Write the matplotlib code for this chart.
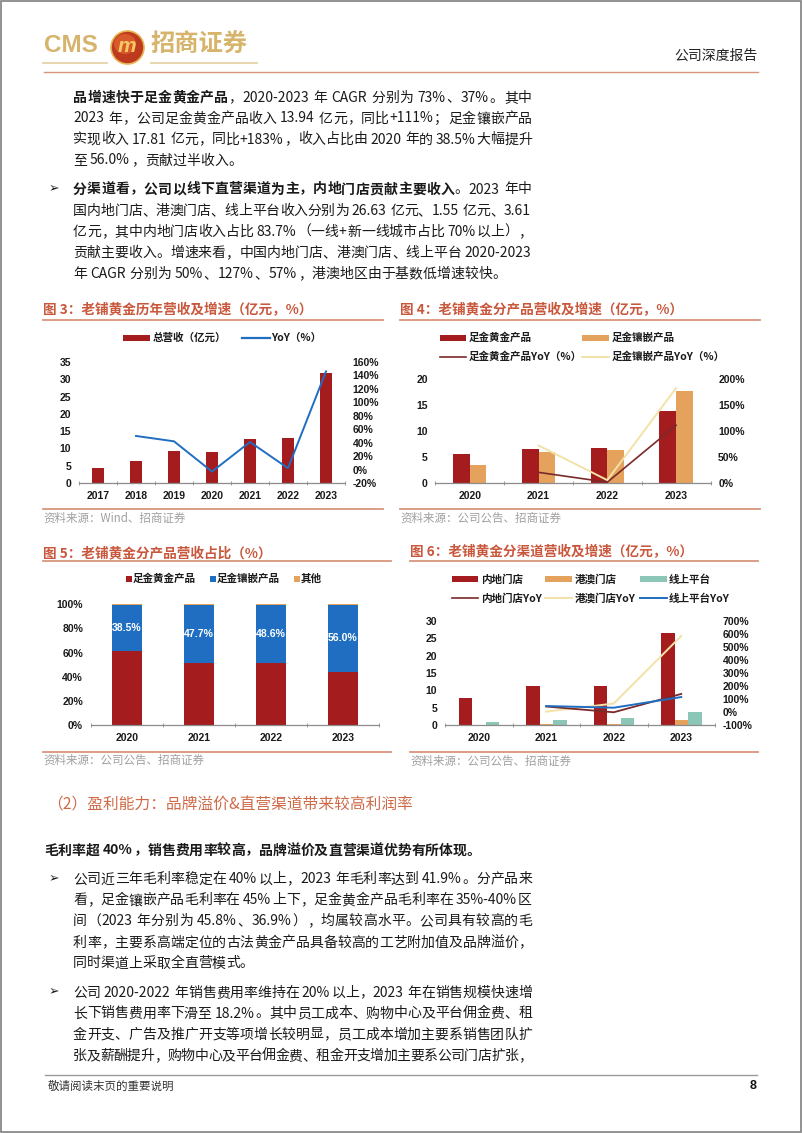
import re
import numpy as np
import matplotlib
matplotlib.use('Agg')
import matplotlib.pyplot as plt
from matplotlib.patches import Rectangle, Ellipse
from matplotlib.lines import Line2D

W, H = 802, 1133
CJK = ['Noto Sans CJK SC', 'DejaVu Sans']
LAT = ['Liberation Sans', 'DejaVu Sans']

# ---------------- data ----------------
years3 = ['2017', '2018', '2019', '2020', '2021', '2022', '2023']
revenue3 = [4.3, 6.5, 9.3, 9.0, 12.7, 12.9, 31.8]
yoy3 = [np.nan, 50, 42, -3, 41, 2, 146]

years4 = ['2020', '2021', '2022', '2023']
gold_rev = [5.5, 6.6, 6.65, 13.94]
inlay_rev = [3.5, 6.0, 6.3, 17.81]
gold_yoy = [np.nan, 20, 1, 111]
inlay_yoy = [np.nan, 72, 5, 183]

gold_share = [61.0, 51.7, 51.2, 43.8]
inlay_share = [38.5, 47.7, 48.6, 56.0]
other_share = [0.5, 0.6, 0.2, 0.2]

mainland_rev = [7.9, 11.35, 11.15, 26.63]
hkmo_rev = [0.13, 0.15, 0.23, 1.55]
online_rev = [0.95, 1.45, 1.9, 3.61]
mainland_yoy = [np.nan, 42, -2, 139]
hkmo_yoy = [np.nan, 3, 65, 585]
online_yoy = [np.nan, 46, 33, 115]

# ---------------- colours ----------------
RED = '#A41C1E'
ORANGE = '#E4A25C'
BLUE = '#1F6EC1'
TEAL = '#8CC6B6'
MAROON = '#7B2A2A'
PALE = '#F2E2A8'
TITLE_C = '#C9573C'
RULE_C = '#D9957C'
GOLD = '#D6B46C'

fig = plt.figure(figsize=(W / 100, H / 100), dpi=100)
fig.patch.set_facecolor('white')
R = fig.canvas.get_renderer()


def txt(x, y, s, size, color='#1a1a1a', weight='normal', ha='left', va='center', family=CJK, **kw):
    return fig.text(x / W, 1 - y / H, s, fontsize=size, color=color, fontweight=weight,
                    ha=ha, va=va, family=family, **kw)


def hline(x0, x1, y, color, lw):
    fig.add_artist(Line2D([x0 / W, x1 / W], [1 - y / H, 1 - y / H], color=color, lw=lw,
                          transform=fig.transFigure))


def leg_bar(x0, x1, y, color, h=6):
    fig.add_artist(Rectangle((x0 / W, 1 - (y + h / 2) / H), (x1 - x0) / W, h / H,
                             facecolor=color, edgecolor='none', transform=fig.transFigure))


def leg_line(x0, x1, y, color, lw=1.3):
    hline(x0, x1, y, color, lw)


# ---------------- justified body text ----------------
FULL = set('，。、；：（）“”！？')
TOK = re.compile(r'[A-Za-z0-9.\-+%&/]+| |.')


def is_full(ch):
    return ord(ch) >= 0x2E80 or ch in FULL


def body_line(x0, yc, segs, size=10, justify=True, right=532, color='#1a1a1a'):
    em = size * 100 / 72
    toks = []
    for s, b in segs:
        for t in TOK.findall(s):
            toks.append((t, b))
    widths = []
    for t, b in toks:
        if t == ' ':
            widths.append(0.22 * em)
        elif len(t) == 1 and is_full(t):
            widths.append(em)
        else:
            tmp = fig.text(0, 0, t, fontsize=size, family=CJK,
                           fontweight='bold' if b else 'normal')
            w = tmp.get_window_extent(R).width
            tmp.remove()
            widths.append(w + 0.08 * em)
    nat = sum(widths)
    n = len(toks)
    gap = (right - x0 - nat) / (n - 1) if (justify and n > 1) else 0
    yb = yc + 0.36 * em
    x = x0
    for (t, b), w in zip(toks, widths):
        if t != ' ':
            fig.text(x / W, 1 - yb / H, t, fontsize=size, family=CJK,
                     fontweight='bold' if b else 'normal', color=color,
                     ha='left', va='baseline')
        x += w + gap


def bullet(y):
    txt(48.5, y, '➢', 9, family=['DejaVu Sans'], color='#1a1a1a')


# ---------------- page frame & header ----------------
fig.add_artist(Rectangle((0.6 / W, 0.6 / H), (W - 1.8) / W, (H - 1.8) / H, fill=False,
                         edgecolor='#7f7f7f', lw=1.2, transform=fig.transFigure))

txt(44, 46, 'CMS', 17.5, color=GOLD, weight='bold', family=LAT)
fig.add_artist(Ellipse((127.5 / W, 1 - 47.5 / H), 33 / W, 33 / H, facecolor='#BE3A1E',
                       edgecolor='#E7B554', lw=1.2, transform=fig.transFigure))
fig.add_artist(Ellipse((125 / W, 1 - 44 / H), 22 / W, 20 / H, facecolor='#D85A2A',
                       edgecolor='none', transform=fig.transFigure))
txt(127, 46, 'm', 15, color='#F4C865', weight='bold', ha='center', family=LAT, style='italic')
txt(151, 45, '招商证券', 17.5, color=GOLD, weight='bold')
hline(43, 107, 62.5, '#E3CF9E', 1.2)
hline(151, 257, 62.5, '#E3CF9E', 1.2)
txt(758, 56, '公司深度报告', 10, color='#222222', ha='right')
hline(44, 758, 72, RULE_C, 1.0)

# ---------------- top paragraphs ----------------
X0 = 73
body_line(X0, 96.7, [('品增速快于足金黄金产品', True), ('，2020-2023 年 CAGR 分别为 73%、37%。其中', False)])
body_line(X0, 117.5, [('2023 年，公司足金黄金产品收入 13.94 亿元，同比+111%；足金镶嵌产品', False)])
body_line(X0, 138.5, [('实现收入 17.81 亿元，同比+183%，收入占比由 2020 年的 38.5%大幅提升', False)])
body_line(X0, 159.5, [('至 56.0%，贡献过半收入。', False)], justify=False)

bullet(188.5)
body_line(X0, 188.5, [('分渠道看，公司以线下直营渠道为主，内地门店贡献主要收入', True), ('。2023 年中', False)])
body_line(X0, 210, [('国内地门店、港澳门店、线上平台收入分别为 26.63 亿元、1.55 亿元、3.61', False)])
body_line(X0, 231, [('亿元，其中内地门店收入占比 83.7%（一线+新一线城市占比 70%以上），', False)])
body_line(X0, 252, [('贡献主要收入。增速来看，中国内地门店、港澳门店、线上平台 2020-2023', False)])
body_line(X0, 273, [('年 CAGR 分别为 50%、127%、57%，港澳地区由于基数低增速较快。', False)], justify=False)


# ---------------- chart helpers ----------------
def chart_frame(x0, x1, ytitle, yrule, title, ysrc_rule, ysrc, src):
    txt(x0, ytitle, title, 9.8, color=TITLE_C, weight='bold')
    hline(x0, x1, yrule, RULE_C, 1.3)
    hline(x0, x1, ysrc_rule, RULE_C, 1.3)
    txt(x0, ysrc, src, 8.3, color='#a0a0a0')


def make_axes(x0, x1, ytop, ybot):
    ax = fig.add_axes([x0 / W, 1 - ybot / H, (x1 - x0) / W, (ybot - ytop) / H])
    ax.patch.set_alpha(0)
    for s in ['top', 'right', 'left']:
        ax.spines[s].set_visible(False)
    ax.spines['bottom'].set_color('#8c8c8c')
    ax.spines['bottom'].set_linewidth(0.9)
    return ax


def style_x(ax, labels):
    n = len(labels)
    ax.set_xlim(-0.5, n - 0.5)
    ax.set_xticks(range(n), labels, fontsize=7.5, fontweight='bold', fontfamily=LAT, color='#1a1a1a')
    ax.set_xticks(np.arange(-0.5, n, 1.0), minor=True)
    ax.tick_params(axis='x', which='major', length=0, pad=6)
    ax.tick_params(axis='x', which='minor', length=3, color='#8c8c8c', direction='inout')


def style_y(ax, lo, hi, step, fmt, side='left'):
    ticks = np.arange(lo, hi + step / 2, step)
    ax.set_ylim(lo, hi)
    ax.set_yticks(ticks, [fmt(t) for t in ticks], fontsize=7.5, fontweight='bold',
                  fontfamily=LAT, color='#1a1a1a')
    ax.tick_params(axis='y', length=0, pad=5.5)


def twin(ax):
    a2 = ax.twinx()
    for s in a2.spines.values():
        s.set_visible(False)
    a2.patch.set_alpha(0)
    return a2


num = lambda t: f'{t:.0f}'
pct = lambda t: f'{t:.0f}%'

# ---------------- Chart 3 ----------------
chart_frame(43, 383, 310, 319.5, '图 3：老铺黄金历年营收及增速（亿元，%）', 509, 518, '资料来源：Wind、招商证券')
leg_bar(123, 150, 338, RED)
txt(152.5, 338, '总营收（亿元）', 7.6, weight='bold')
leg_line(242, 270, 338, BLUE, 1.6)
txt(271.5, 338, 'YoY（%）', 7.6, weight='bold')

ax3 = make_axes(79, 345, 362, 483)
x3 = np.arange(len(years3))
ax3.bar(x3, revenue3, width=0.34, color=RED, zorder=2)
style_x(ax3, years3)
style_y(ax3, 0, 35, 5, num)
ax3b = twin(ax3)
ax3b.plot(x3, yoy3, color=BLUE, lw=1.4, zorder=3)
style_y(ax3b, -20, 160, 20, pct)

# ---------------- Chart 4 ----------------
chart_frame(400, 760, 310, 319.5, '图 4：老铺黄金分产品营收及增速（亿元，%）', 509, 518, '资料来源：公司公告、招商证券')
leg_bar(440, 466, 337.7, RED)
txt(469, 337.7, '足金黄金产品', 7.6, weight='bold')
leg_bar(582, 609, 337.7, ORANGE)
txt(611.5, 337.7, '足金镶嵌产品', 7.6, weight='bold')
leg_line(440, 466, 356.7, MAROON, 1.2)
txt(469, 356.7, '足金黄金产品YoY（%）', 7.6, weight='bold')
leg_line(582, 609, 356.7, PALE, 1.4)
txt(611.5, 356.7, '足金镶嵌产品YoY（%）', 7.6, weight='bold')

ax4 = make_axes(435.3, 710.5, 379.3, 482.7)
x4 = np.arange(len(years4))
bw = 0.243
ax4.bar(x4 - bw / 2, gold_rev, width=bw, color=RED, zorder=2)
ax4.bar(x4 + bw / 2, inlay_rev, width=bw, color=ORANGE, zorder=2)
style_x(ax4, years4)
style_y(ax4, 0, 20, 5, num)
ax4b = twin(ax4)
ax4b.plot(x4, gold_yoy, color=MAROON, lw=1.2, zorder=3)
ax4b.plot(x4, inlay_yoy, color=PALE, lw=1.4, zorder=3)
style_y(ax4b, 0, 200, 50, pct)

# ---------------- Chart 5 ----------------
chart_frame(43, 391, 553.3, 561, '图 5：老铺黄金分产品营收占比（%）', 751.7, 760, '资料来源：公司公告、招商证券')
for (xs, col, lab) in [(126, RED, '足金黄金产品'), (210, BLUE, '足金镶嵌产品'), (294, ORANGE, '其他')]:
    fig.add_artist(Rectangle((xs / W, 1 - 582 / H), 6 / W, 6 / H, facecolor=col,
                             edgecolor='none', transform=fig.transFigure))
    txt(xs + 7, 579, lab, 7.6, weight='bold')

ax5 = make_axes(90.7, 378.7, 604.3, 725)
x5 = np.arange(len(years4))
bw5 = 0.42
gs = np.array(gold_share)
ins = np.array(inlay_share)
ax5.bar(x5, gs, width=bw5, color=RED, zorder=2)
ax5.bar(x5, ins, width=bw5, bottom=gs, color=BLUE, zorder=2)
ax5.bar(x5, other_share, width=bw5, bottom=gs + ins, color=ORANGE, zorder=2)
for i, v in enumerate(inlay_share):
    ax5.text(i, gs[i] + v / 2, f'{v:.1f}%', ha='center', va='center', color='white',
             fontsize=7.6, fontweight='bold', family=LAT, zorder=4)
style_x(ax5, years4)
style_y(ax5, 0, 100, 20, pct)

# ---------------- Chart 6 ----------------
chart_frame(410, 758, 551.7, 561, '图 6：老铺黄金分渠道营收及增速（亿元，%）', 751.7, 761, '资料来源：公司公告、招商证券')
leg_bar(451.7, 478.3, 579.3, RED)
txt(481, 579.3, '内地门店', 7.6, weight='bold')
leg_bar(545, 571.7, 579.3, ORANGE)
txt(574.3, 579.3, '港澳门店', 7.6, weight='bold')
leg_bar(640, 666.7, 579.3, TEAL)
txt(669, 579.3, '线上平台', 7.6, weight='bold')
leg_line(451.7, 478.3, 598.3, MAROON, 1.2)
txt(481, 598.3, '内地门店YoY', 7.6, weight='bold')
leg_line(545, 571.7, 598.3, PALE, 1.4)
txt(574.3, 598.3, '港澳门店YoY', 7.6, weight='bold')
leg_line(640, 666.7, 598.3, BLUE, 1.4)
txt(669, 598.3, '线上平台YoY', 7.6, weight='bold')

ax6 = make_axes(445, 715, 621, 725)
x6 = np.arange(len(years4))
bw6 = 0.2
ax6.bar(x6 - bw6, mainland_rev, width=bw6, color=RED, zorder=2)
ax6.bar(x6, hkmo_rev, width=bw6, color=ORANGE, zorder=2)
ax6.bar(x6 + bw6, online_rev, width=bw6, color=TEAL, zorder=2)
style_x(ax6, years4)
style_y(ax6, 0, 30, 5, num)
ax6b = twin(ax6)
ax6b.plot(x6, hkmo_yoy, color=PALE, lw=1.4, zorder=3)
ax6b.plot(x6, mainland_yoy, color=MAROON, lw=1.3, zorder=3)
ax6b.plot(x6, online_yoy, color=BLUE, lw=1.4, zorder=3)
style_y(ax6b, -100, 700, 100, pct)

# ---------------- lower section ----------------
txt(47, 805, '（2）盈利能力：品牌溢价&直营渠道带来较高利润率', 11.3, color='#CF6A48')
body_line(44, 849.5, [('毛利率超 40%，销售费用率较高，品牌溢价及直营渠道优势有所体现。', True)], justify=False)

bullet(878.3)
body_line(X0, 878.3, [('公司近三年毛利率稳定在 40%以上，2023 年毛利率达到 41.9%。分产品来', False)])
body_line(X0, 899.3, [('看，足金镶嵌产品毛利率在 45%上下，足金黄金产品毛利率在 35%-40%区', False)])
body_line(X0, 920.3, [('间（2023 年分别为 45.8%、36.9%），均属较高水平。公司具有较高的毛', False)])
body_line(X0, 941.5, [('利率，主要系高端定位的古法黄金产品具备较高的工艺附加值及品牌溢价，', False)])
body_line(X0, 962.5, [('同时渠道上采取全直营模式。', False)], justify=False)

bullet(991.7)
body_line(X0, 991.7, [('公司 2020-2022 年销售费用率维持在 20%以上，2023 年在销售规模快速增', False)])
body_line(X0, 1012.5, [('长下销售费用率下滑至 18.2%。其中员工成本、购物中心及平台佣金费、租', False)])
body_line(X0, 1033.5, [('金开支、广告及推广开支等项增长较明显，员工成本增加主要系销售团队扩', False)])
body_line(X0, 1055, [('张及薪酬提升，购物中心及平台佣金费、租金开支增加主要系公司门店扩张，', False)])

# ---------------- footer ----------------
hline(45, 757, 1075, '#9a9a9a', 1.0)
txt(48, 1086, '敬请阅读末页的重要说明', 8.3, color='#333333')
txt(757, 1086, '8', 9, color='#111111', weight='bold', ha='right', family=LAT)

fig.savefig('out.png', dpi=100)
